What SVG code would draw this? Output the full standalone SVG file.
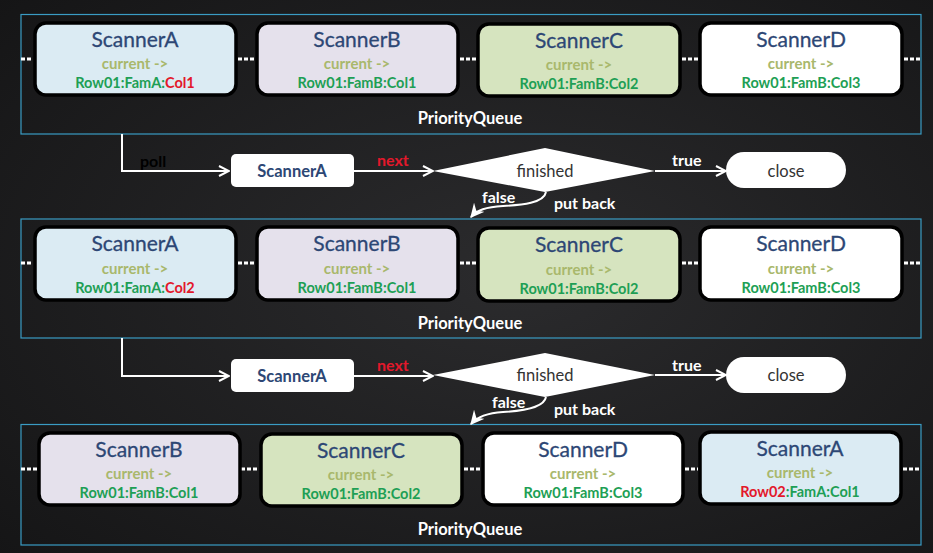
<svg xmlns="http://www.w3.org/2000/svg" width="933" height="553" viewBox="0 0 933 553">
<defs>
<radialGradient id="bg" cx="0.55" cy="0.5" r="0.75">
<stop offset="0" stop-color="#2b2b2d"/>
<stop offset="1" stop-color="#151516"/>
</radialGradient>
<marker id="arr" viewBox="0 0 12 12" refX="11" refY="6" markerWidth="12" markerHeight="12" markerUnits="userSpaceOnUse" orient="auto">
<path d="M1,1 L11,6 L1,11" fill="none" stroke="#fff" stroke-width="2"/>
</marker>
<marker id="arr2" viewBox="0 0 12 12" refX="11" refY="6" markerWidth="14" markerHeight="14" markerUnits="userSpaceOnUse" orient="auto">
<path d="M0,0 L12,6 L0,12 L4,6 Z" fill="#fff"/>
</marker>
</defs>
<style>
.panel{fill:none;stroke:#3a9cc4;stroke-width:1.2}
.box{stroke:#000;stroke-width:3.5}
.fa{fill:#dbebf3}.fb{fill:#e5e1ec}.fc{fill:#d6e4bf}.fd{fill:#fff}
.t{font-family:Lato,"Open Sans",sans-serif;font-size:21px;fill:#2d4775;text-anchor:middle;stroke:#2d4775;stroke-width:0.3}
.c{font-family:Lato,"Open Sans",sans-serif;font-size:15px;font-weight:bold;fill:#a9b86c;text-anchor:middle}
.r{font-family:Lato,"Open Sans",sans-serif;font-size:14.5px;font-weight:bold;fill:#1e9f55;text-anchor:middle}
.red{fill:#e3182b}
.pq{font-family:Lato,"Open Sans",sans-serif;font-size:16.5px;font-weight:bold;fill:#fff;text-anchor:middle}
.dash{stroke:#fff;stroke-width:3;stroke-dasharray:4 2}
.ln{stroke:#fff;stroke-width:2;fill:none}
.lbl{font-family:Lato,"Open Sans",sans-serif;font-size:16px;font-weight:bold;fill:#fff}
.nx{fill:#e3182b}
.node{fill:#fff}
.nt{font-family:Lato,"Open Sans",sans-serif;font-size:16.5px;font-weight:bold;fill:#2d4775;text-anchor:middle}
.dt{font-family:Lato,"Open Sans",sans-serif;font-size:16.5px;fill:#333;text-anchor:middle}
</style>
<rect width="933" height="553" fill="url(#bg)"/>

<g id="queue1">
<rect class="panel" x="21" y="14.5" width="900" height="119.5"/>
<text class="pq" x="470" y="124">PriorityQueue</text>
</g>
<g id="queue2">
<rect class="panel" x="21" y="219" width="900" height="119"/>
<text class="pq" x="470" y="329">PriorityQueue</text>
</g>
<g id="queue3">
<rect class="panel" x="21" y="424.5" width="900" height="120.5"/>
<text class="pq" x="470" y="535">PriorityQueue</text>
</g>

<g id="connectors">
<line class="dash" x1="21" y1="59" x2="33" y2="59"/>
<line class="dash" x1="238" y1="59" x2="256" y2="59"/>
<line class="dash" x1="460" y1="59" x2="477" y2="59"/>
<line class="dash" x1="682" y1="59" x2="699" y2="59"/>
<line class="dash" x1="904" y1="59" x2="921" y2="59"/>

<line class="dash" x1="21" y1="263" x2="33" y2="263"/>
<line class="dash" x1="238" y1="263" x2="256" y2="263"/>
<line class="dash" x1="460" y1="263" x2="477" y2="263"/>
<line class="dash" x1="682" y1="263" x2="699" y2="263"/>
<line class="dash" x1="904" y1="263" x2="921" y2="263"/>

<line class="dash" x1="21" y1="469" x2="37" y2="469"/>
<line class="dash" x1="241" y1="469" x2="259" y2="469"/>
<line class="dash" x1="464" y1="469" x2="481" y2="469"/>
<line class="dash" x1="685" y1="469" x2="698" y2="469"/>
<line class="dash" x1="903" y1="469" x2="921" y2="469"/>

<path class="ln" d="M122,134 V171 H229" marker-end="url(#arr)"/>
<path class="ln" d="M354,171 H433" marker-end="url(#arr)"/>
<path class="ln" d="M655,171 H726" marker-end="url(#arr)"/>
<path class="ln" d="M546,192 C544,203 522,205 503,206 C486,207 477,210 471,217" marker-end="url(#arr2)"/>
<text class="lbl" x="140" y="167" style="fill:#000">poll</text>
<text class="lbl nx" x="377" y="166">next</text>
<text class="lbl" x="672" y="166">true</text>
<text class="lbl" x="482" y="203">false</text>
<text class="lbl" x="554" y="209">put back</text>

<path class="ln" d="M122,338 V376 H229" marker-end="url(#arr)"/>
<path class="ln" d="M354,376 H433" marker-end="url(#arr)"/>
<path class="ln" d="M655,375 H726" marker-end="url(#arr)"/>
<path class="ln" d="M546,397 C544,408 522,411 503,412 C486,413 477,417 471,424" marker-end="url(#arr2)"/>
<text class="lbl nx" x="377" y="371">next</text>
<text class="lbl" x="672" y="371">true</text>
<text class="lbl" x="492" y="408">false</text>
<text class="lbl" x="554" y="415">put back</text>
</g>

<g id="p1-scannerA">
<rect class="box fa" x="35" y="23" width="201" height="72" rx="11"/>
<text class="t" x="135" y="47">ScannerA</text>
<text class="c" x="135" y="69">current -&gt;</text>
<text class="r" x="135" y="88">Row01:FamA:<tspan class="red">Col1</tspan></text>
</g>
<g id="p1-scannerB">
<rect class="box fb" x="257" y="23" width="201" height="72" rx="11"/>
<text class="t" x="357" y="47">ScannerB</text>
<text class="c" x="357" y="69">current -&gt;</text>
<text class="r" x="357" y="88">Row01:FamB:Col1</text>
</g>
<g id="p1-scannerC">
<rect class="box fc" x="478" y="24" width="202" height="72" rx="11"/>
<text class="t" x="579" y="48">ScannerC</text>
<text class="c" x="579" y="70">current -&gt;</text>
<text class="r" x="579" y="89">Row01:FamB:Col2</text>
</g>
<g id="p1-scannerD">
<rect class="box fd" x="700" y="23" width="202" height="72" rx="11"/>
<text class="t" x="801" y="47">ScannerD</text>
<text class="c" x="801" y="69">current -&gt;</text>
<text class="r" x="801" y="88">Row01:FamB:Col3</text>
</g>

<g id="r1-scannerA">
<rect class="node" x="231" y="154" width="123" height="33" rx="5"/>
<text class="nt" x="292" y="177">ScannerA</text>
</g>
<g id="r1-finished">
<polygon class="node" points="433,171 545,148 655,171 545,192"/>
<text class="dt" x="545" y="177">finished</text>
</g>
<g id="r1-close">
<rect class="node" x="726" y="152" width="120" height="36" rx="18"/>
<text class="dt" x="786" y="177">close</text>
</g>

<g id="p2-scannerA">
<rect class="box fa" x="35" y="227" width="201" height="73" rx="11"/>
<text class="t" x="135" y="251">ScannerA</text>
<text class="c" x="135" y="274">current -&gt;</text>
<text class="r" x="135" y="293">Row01:FamA:<tspan class="red">Col2</tspan></text>
</g>
<g id="p2-scannerB">
<rect class="box fb" x="257" y="227" width="201" height="73" rx="11"/>
<text class="t" x="357" y="251">ScannerB</text>
<text class="c" x="357" y="274">current -&gt;</text>
<text class="r" x="357" y="293">Row01:FamB:Col1</text>
</g>
<g id="p2-scannerC">
<rect class="box fc" x="478" y="228" width="202" height="73" rx="11"/>
<text class="t" x="579" y="252">ScannerC</text>
<text class="c" x="579" y="275">current -&gt;</text>
<text class="r" x="579" y="294">Row01:FamB:Col2</text>
</g>
<g id="p2-scannerD">
<rect class="box fd" x="700" y="227" width="202" height="73" rx="11"/>
<text class="t" x="801" y="251">ScannerD</text>
<text class="c" x="801" y="274">current -&gt;</text>
<text class="r" x="801" y="293">Row01:FamB:Col3</text>
</g>

<g id="r2-scannerA">
<rect class="node" x="231" y="359" width="123" height="33" rx="5"/>
<text class="nt" x="292" y="382">ScannerA</text>
</g>
<g id="r2-finished">
<polygon class="node" points="433,375 545,353 655,375 545,397"/>
<text class="dt" x="545" y="381">finished</text>
</g>
<g id="r2-close">
<rect class="node" x="726" y="357" width="120" height="36" rx="18"/>
<text class="dt" x="786" y="381">close</text>
</g>

<g id="p3-scannerB">
<rect class="box fb" x="39" y="433" width="201" height="72" rx="11"/>
<text class="t" x="139" y="457">ScannerB</text>
<text class="c" x="139" y="479">current -&gt;</text>
<text class="r" x="139" y="498">Row01:FamB:Col1</text>
</g>
<g id="p3-scannerC">
<rect class="box fc" x="261" y="434" width="201" height="72" rx="11"/>
<text class="t" x="361" y="458">ScannerC</text>
<text class="c" x="361" y="480">current -&gt;</text>
<text class="r" x="361" y="499">Row01:FamB:Col2</text>
</g>
<g id="p3-scannerD">
<rect class="box fd" x="483" y="433" width="200" height="72" rx="11"/>
<text class="t" x="583" y="457">ScannerD</text>
<text class="c" x="583" y="479">current -&gt;</text>
<text class="r" x="583" y="498">Row01:FamB:Col3</text>
</g>
<g id="p3-scannerA">
<rect class="box fa" x="700" y="432" width="201" height="72" rx="11"/>
<text class="t" x="800" y="456">ScannerA</text>
<text class="c" x="800" y="478">current -&gt;</text>
<text class="r" x="800" y="497"><tspan class="red">Row02</tspan>:FamA:Col1</text>
</g>
</svg>
